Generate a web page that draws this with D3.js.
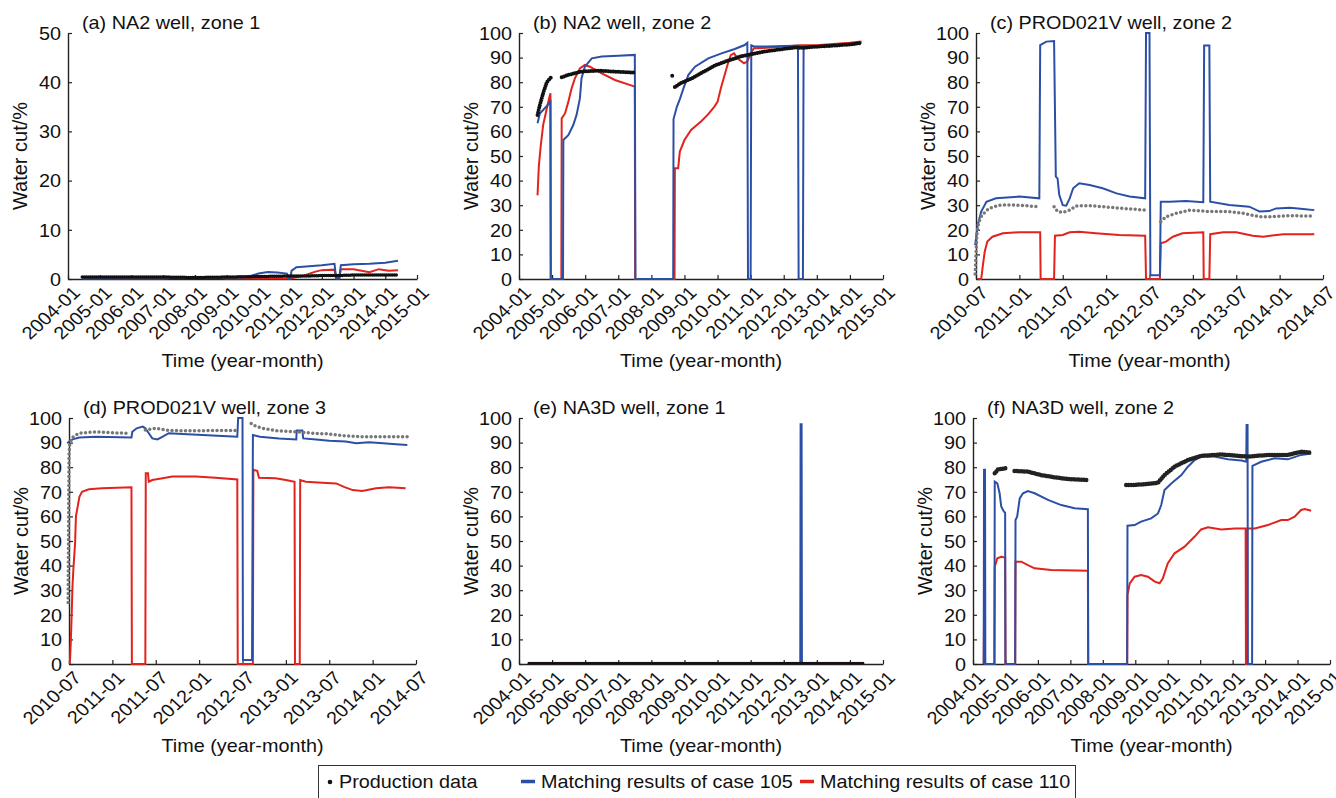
<!DOCTYPE html>
<html>
<head>
<meta charset="utf-8">
<script src="https://cdn.jsdelivr.net/npm/d3@7"></script>
<style>
    body { margin: 0; background: #fff; }
    text { font-family: "Liberation Sans", Arial, sans-serif; fill: #111; }
</style>
</head>
<body>
<svg id="chart" width="1336" height="798"></svg>
<script>
// tick labels
const yearTicks = ["2004-01", "2005-01", "2006-01", "2007-01", "2008-01", "2009-01",
    "2010-01", "2011-01", "2012-01", "2013-01", "2014-01", "2015-01"];
const halfYearTicks = ["2010-07", "2011-01", "2011-07", "2012-01", "2012-07",
    "2013-01", "2013-07", "2014-01", "2014-07"];

const legendLabels = ["Production data", "Matching results of case 105", "Matching results of case 110"];

// series: [decimal year, water cut %], null breaks the line
// (a) NA2 well, zone 1
const aProd = [[2004.45, 0.4], [2005, 0.4], [2006, 0.4], [2007, 0.4], [2008, 0.3], [2009, 0.4], [2010, 0.5],
    [2010.95, 0.6], [2011.5, 0.6], [2012, 0.7], [2012.5, 0.7], [2013, 0.8], [2014, 0.8], [2014.4, 0.8]];
const aCase105 = [[2004.45, 0.2], [2009.5, 0.3], [2009.8, 0.7], [2010.0, 1.1], [2010.3, 1.4], [2010.6, 1.3],
    [2010.9, 1.1], [2010.95, 0.1], [2011.0, 0.1], [2011.05, 1.7], [2011.2, 2.4], [2011.6, 2.6], [2012.0, 2.8],
    [2012.4, 3.1], [2012.45, 0.2], [2012.55, 0.2], [2012.6, 2.8], [2013.0, 3.0], [2013.5, 3.1], [2014.0, 3.3],
    [2014.4, 3.7]];
const aCase110 = [[2004.45, 0.1], [2007.0, 0.1], [2007.5, 0.3], [2008.7, 0.3], [2009.0, 0.1], [2011.0, 0.1],
    [2011.4, 0.6], [2011.8, 1.5], [2012.0, 1.8], [2012.4, 1.9], [2012.45, 0.1], [2012.55, 0.1], [2012.6, 2.0],
    [2013.0, 2.0], [2013.5, 1.4], [2013.8, 2.0], [2014.1, 1.7], [2014.4, 1.8]];

// (b) NA2 well, zone 2
const bProd = [[2004.56, 66.7], [2004.63, 70.7], [2004.74, 76], [2004.84, 80], [2004.97, 82], null,
    [2005.29, 82], [2005.49, 83], [2005.89, 84.3], [2006.4, 84.7], [2006.9, 84.3], [2007.5, 83.9], null,
    [2008.63, 82.6], [2008.66, 82], null,
    [2008.71, 78], [2008.91, 79.8], [2009.22, 81.5], [2009.52, 83.8], [2009.92, 86.8], [2010.32, 88.8],
    [2010.73, 90.6], [2011.13, 91.7], [2011.53, 92.7], [2011.94, 93.4], [2012.34, 94.1], [2012.64, 94],
    [2012.94, 94.4], [2013.45, 94.8], [2013.95, 95.3], [2014.35, 95.9]];
const bCase105 = [[2004.56, 63.3], [2004.63, 67.3], [2004.75, 69], [2004.85, 70.5], [2004.95, 72],
    [2004.96, 0], [2005.33, 0], [2005.34, 56.5], [2005.49, 58.5], [2005.64, 62.6], [2005.74, 66.7],
    [2005.84, 73.4], [2005.89, 81.6], [2005.99, 86.3], [2006.2, 89.7], [2006.5, 90.4], [2007.0, 90.8],
    [2007.5, 91.1], [2007.52, 0], [2008.66, 0], [2008.67, 65], [2008.77, 70], [2008.87, 73.4],
    [2008.97, 77.5], [2009.12, 83], [2009.32, 86.3], [2009.72, 89.7], [2010.12, 91.7], [2010.52, 93.5],
    [2010.82, 95.1], [2010.9, 96], [2010.92, 0], [2011.0, 0], [2011.02, 95], [2011.1, 94.5], [2011.5, 94.5],
    [2012.0, 94.7], [2012.43, 94.8], [2012.45, 0], [2012.58, 0], [2012.6, 94], [2013.0, 94.5], [2013.5, 95],
    [2014.0, 95.5], [2014.35, 96]];
const bCase110 = [[2004.56, 34], [2004.6, 46], [2004.66, 54.5], [2004.73, 62.6], [2004.83, 68.7],
    [2004.92, 74], [2004.95, 75.5], [2004.96, 0], [2005.28, 0], [2005.29, 65.3], [2005.39, 67.3],
    [2005.49, 72], [2005.59, 77.5], [2005.69, 81.6], [2005.84, 85.6], [2005.99, 87], [2006.14, 86.3],
    [2006.5, 83.6], [2006.9, 80.9], [2007.5, 78.2], [2007.51, 0], [2008.7, 0], [2008.71, 45], [2008.81, 45],
    [2008.86, 51.8], [2009.0, 56.5], [2009.2, 60.6], [2009.5, 64], [2009.7, 66.7], [2009.9, 70], [2010.0, 72],
    [2010.1, 77.5], [2010.3, 87], [2010.4, 91], [2010.5, 91.7], [2010.6, 89.7], [2010.8, 87.7], [2010.9, 88.4],
    [2011.0, 91.7], [2011.1, 93.8], [2011.5, 94], [2012.0, 94.5], [2012.5, 95], [2013.0, 95], [2013.5, 95.5],
    [2014.0, 96], [2014.35, 96.5]];

// (c) PROD021V well, zone 2
const cProd = [[2010.49, 2], [2010.5, 10], [2010.51, 18], [2010.53, 23], [2010.57, 26], [2010.65, 28.7],
    [2010.77, 30], [2010.88, 30.1], [2011.0, 30], [2011.2, 29.4], null,
    [2011.4, 29.4], [2011.44, 27.4], [2011.5, 27.1], [2011.58, 28], [2011.65, 29.7], [2011.81, 29.8],
    [2011.96, 29.4], [2012.19, 28.7], [2012.45, 28], null,
    [2012.63, 23.3], [2012.69, 25.3], [2012.81, 26.7], [2012.96, 28], [2013.19, 27.4], [2013.42, 27.4],
    [2013.58, 26.7], [2013.77, 25.3], [2013.88, 25.3], [2014.08, 25.7], [2014.4, 25.6]];
const cCase105 = [[2010.49, 13.8], [2010.52, 22], [2010.56, 27.4], [2010.62, 31.4], [2010.73, 32.8],
    [2011.0, 33.5], [2011.23, 32.8], [2011.24, 95.1], [2011.31, 96.5], [2011.4, 96.7], [2011.42, 41.6],
    [2011.44, 40.9], [2011.46, 34.1], [2011.5, 30], [2011.54, 29.8], [2011.58, 32.8], [2011.62, 36.9],
    [2011.69, 38.9], [2011.81, 38.2], [2011.96, 36.9], [2012.12, 34.8], [2012.27, 33.5], [2012.45, 32.8],
    [2012.46, 100], [2012.5, 100], [2012.51, 1.5], [2012.62, 1.5], [2012.63, 31.4], [2012.73, 31.4],
    [2012.92, 31.7], [2013.12, 31.2], [2013.13, 94.9], [2013.19, 94.9], [2013.2, 31.4], [2013.42, 30.1],
    [2013.65, 29.4], [2013.77, 27.4], [2013.88, 27.6], [2013.96, 28.7], [2014.12, 29], [2014.27, 28.5],
    [2014.4, 28]];
const cCase110 = [[2010.52, 0], [2010.56, 0], [2010.58, 5.7], [2010.6, 11], [2010.63, 15.2], [2010.69, 17.2],
    [2010.81, 18.6], [2011.0, 19], [2011.24, 19], [2011.245, 0], [2011.4, 0], [2011.41, 17.6], [2011.5, 17.9],
    [2011.58, 19], [2011.69, 19.2], [2011.88, 18.6], [2012.15, 17.9], [2012.45, 17.6], [2012.46, 0],
    [2012.62, 0], [2012.63, 14.5], [2012.69, 15.2], [2012.77, 17.2], [2012.88, 18.6], [2013.12, 19],
    [2013.125, 0], [2013.19, 0], [2013.2, 18.2], [2013.35, 19], [2013.5, 19], [2013.69, 17.6], [2013.81, 17.2],
    [2014.04, 18.2], [2014.4, 18.2]];

// (d) PROD021V well, zone 3
const dProd = [[2010.49, 25], [2010.5, 85], [2010.51, 90], [2010.55, 92.5], [2010.62, 93.8], [2010.81, 94.4],
    [2011.0, 94], [2011.2, 93.8], null,
    [2011.38, 95.1], [2011.5, 95.8], [2011.65, 94.9], [2011.96, 94.8], [2012.15, 94.9], [2012.44, 94.9], null,
    [2012.6, 97.8], [2012.65, 96.7], [2012.73, 95.8], [2012.88, 94.9], [2013.12, 94.4], [2013.31, 93.8],
    [2013.5, 93.5], [2013.69, 92.7], [2013.88, 92.4], [2014.4, 92.4]];
const dCase105 = [[2010.48, 89.7], [2010.5, 90.4], [2010.54, 91.3], [2010.62, 92.1], [2010.81, 92.4],
    [2011.22, 92.1], [2011.23, 94.4], [2011.28, 95.8], [2011.35, 96.5], [2011.38, 95.8], [2011.42, 93.8],
    [2011.46, 91.7], [2011.52, 91.3], [2011.58, 92.4], [2011.65, 93.8], [2011.81, 93.5], [2012.04, 93.1],
    [2012.27, 92.7], [2012.44, 92.4], [2012.45, 100], [2012.5, 100], [2012.505, 1.6], [2012.61, 1.6],
    [2012.62, 93.1], [2012.7, 92.4], [2012.92, 91.7], [2013.12, 91.3], [2013.125, 94.9], [2013.19, 94.9],
    [2013.2, 91.7], [2013.35, 91.3], [2013.5, 90.8], [2013.69, 90.4], [2013.81, 89.7], [2013.96, 90.1],
    [2014.12, 89.7], [2014.27, 89.3], [2014.4, 89]];
const dCase110 = [[2010.51, 0], [2010.52, 8.4], [2010.53, 19], [2010.54, 31.4], [2010.55, 38.2],
    [2010.57, 49], [2010.58, 60], [2010.6, 64], [2010.62, 68], [2010.65, 70], [2010.73, 71], [2010.88, 71.4],
    [2011.22, 71.8], [2011.225, 0], [2011.38, 0], [2011.385, 77.5], [2011.41, 77.5], [2011.42, 74.1],
    [2011.46, 74.8], [2011.58, 75.5], [2011.69, 76.2], [2011.96, 76.2], [2012.19, 75.7], [2012.44, 75],
    [2012.445, 0], [2012.62, 0], [2012.625, 78.9], [2012.67, 78.5], [2012.69, 75.7], [2012.88, 75.5],
    [2013.0, 74.8], [2013.1, 74.1], [2013.105, 0], [2013.16, 0], [2013.165, 74.8], [2013.23, 74.1],
    [2013.42, 73.7], [2013.58, 73.4], [2013.67, 72], [2013.77, 70.7], [2013.88, 70.3], [2014.04, 71.4],
    [2014.19, 71.8], [2014.38, 71.4]];

// (e) NA3D well, zone 1
const eProd = [[2004.3, 0.3], [2005, 0.3], [2007, 0.3], [2009, 0.3], [2011, 0.3], [2013, 0.3], [2014.4, 0.3]];
const eCase105 = [[2004.3, 0.2], [2012.5, 0.2], [2012.51, 97.5], [2012.54, 97.5], [2012.55, 0.2], [2014.4, 0.2]];
const eCase110 = [[2004.3, 0.1], [2007.5, 0.2], [2008.7, 0.2], [2014.4, 0.1]];

// (f) NA3D well, zone 2
const fProd = [[2004.67, 77.5], [2004.77, 79.1], [2004.97, 79.5], [2005.0, 79.6], null,
    [2005.28, 78.5], [2005.69, 78.2], [2006.1, 76.8], [2006.51, 75.9], [2006.93, 75.2], [2007.54, 74.8], null,
    [2008.72, 72.8], [2008.98, 72.8], [2009.39, 73.2], [2009.7, 73.7], [2009.9, 76.8], [2010.21, 80.2],
    [2010.62, 82.9], [2011.03, 84.6], [2011.65, 85.2], [2012.47, 84.3], [2013.09, 85], [2013.7, 85],
    [2014.11, 86.3], [2014.42, 85.9]];
const fCase105 = [[2004.33, 0], [2004.34, 79], [2004.37, 79], [2004.38, 0], [2004.66, 0], [2004.67, 74.1],
    [2004.75, 73.4], [2004.82, 69.4], [2004.87, 64], [2004.95, 62], [2004.99, 61.5], [2005.0, 0], [2005.3, 0],
    [2005.31, 58.5], [2005.36, 59.9], [2005.44, 67.3], [2005.54, 69.4], [2005.69, 70.3], [2005.9, 69.4],
    [2006.31, 66.7], [2006.72, 64.6], [2007.13, 63.3], [2007.54, 62.9], [2007.55, 0], [2008.75, 0],
    [2008.76, 56.2], [2008.98, 56.5], [2009.18, 57.9], [2009.49, 59.2], [2009.7, 61.2], [2009.8, 64.6],
    [2009.9, 70.7], [2010.11, 73.4], [2010.42, 76.8], [2010.62, 80.2], [2010.83, 82.9], [2011.03, 84.3],
    [2011.44, 84.3], [2011.85, 83.2], [2012.27, 82.7], [2012.42, 82.2], [2012.43, 97.2], [2012.46, 97.2],
    [2012.47, 0], [2012.6, 0], [2012.61, 80.5], [2012.88, 82.2], [2013.29, 83.6], [2013.7, 83.2],
    [2014.11, 85], [2014.42, 85.6]];
const fCase110 = [[2004.33, 0], [2004.35, 37], [2004.36, 0], [2004.66, 0], [2004.67, 39.6], [2004.75, 43],
    [2004.87, 43.6], [2004.99, 43.3], [2005.0, 0], [2005.3, 0], [2005.31, 41.6], [2005.49, 41.6],
    [2005.69, 40.2], [2005.9, 38.9], [2006.41, 38.2], [2007.54, 37.9], [2007.55, 0], [2008.75, 0],
    [2008.76, 28], [2008.83, 32.8], [2008.98, 35.5], [2009.18, 36.2], [2009.39, 35.5], [2009.6, 33.5],
    [2009.75, 32.8], [2009.85, 34.8], [2010.0, 40.9], [2010.21, 45], [2010.52, 47.7], [2010.83, 51.8],
    [2011.03, 54.7], [2011.24, 55.6], [2011.65, 54.7], [2012.06, 55.1], [2012.4, 55.1], [2012.41, 0],
    [2012.44, 0], [2012.45, 55.1], [2012.68, 55.1], [2013.09, 56.5], [2013.5, 58.5], [2013.7, 58.5],
    [2013.91, 59.9], [2014.11, 62.6], [2014.22, 63], [2014.42, 62.3]];

const BLUE = "#2c4fa6", RED = "#e2231d";
const FONT = 18;
const STRETCH = "scale(1.1,1)";

const panels = [
    { title: "(a) NA2 well, zone 1", ticks: yearTicks, yMax: 50, prod: aProd, c105: aCase105, c110: aCase110,
      left: 68, right: 417, top: 33, bottom: 279, prodColor: "#111", prodWidth: 3.5, prodGap: 2 },
    { title: "(b) NA2 well, zone 2", ticks: yearTicks, yMax: 100, prod: bProd, c105: bCase105, c110: bCase110,
      left: 519, right: 883, top: 33, bottom: 279, prodColor: "#111", prodWidth: 4, prodGap: 2.5 },
    { title: "(c) PROD021V well, zone 2", ticks: halfYearTicks, yMax: 100, prod: cProd, c105: cCase105, c110: cCase110,
      left: 976, right: 1323, top: 33, bottom: 279, prodColor: "#777", prodWidth: 3.5, prodGap: 4.5 },
    { title: "(d) PROD021V well, zone 3", ticks: halfYearTicks, yMax: 100, prod: dProd, c105: dCase105, c110: dCase110,
      left: 69, right: 416, top: 418, bottom: 664, prodColor: "#777", prodWidth: 3.5, prodGap: 4.5 },
    { title: "(e) NA3D well, zone 1", ticks: yearTicks, yMax: 100, prod: eProd, c105: eCase105, c110: eCase110,
      left: 519, right: 883, top: 418, bottom: 664, prodColor: "#111", prodWidth: 3, prodGap: 2 },
    { title: "(f) NA3D well, zone 2", ticks: yearTicks, yMax: 100, prod: fProd, c105: fCase105, c110: fCase110,
      left: 973, right: 1330, top: 418, bottom: 664, prodColor: "#222", prodWidth: 4.5, prodGap: 2.5 }
];

const toYear = s => +s.slice(0, 4) + (+s.slice(5, 7) - 1) / 12;

const svg = d3.select("#chart");
svg.append("rect").attr("width", 1336).attr("height", 798).attr("fill", "#fff");

panels.forEach(p => {
    const g = svg.append("g");
    const tickYears = p.ticks.map(toYear);
    const x = d3.scaleLinear().domain([tickYears[0], tickYears[tickYears.length - 1]]).range([p.left, p.right]);
    const y = d3.scaleLinear().domain([0, p.yMax]).range([p.bottom, p.top]);

    const line = d3.line()
        .defined(d => d !== null)
        .x(d => x(d[0]))
        .y(d => y(d[1]));

    // axes
    const xAxis = g.append("g")
        .attr("transform", `translate(0,${p.bottom})`)
        .call(d3.axisBottom(x).tickValues(tickYears).tickFormat((d, i) => p.ticks[i])
            .tickSize(-4).tickSizeOuter(0));
    xAxis.selectAll("text")
        .attr("x", 0).attr("y", 0).attr("dy", "0.7em")
        .attr("text-anchor", "end")
        .attr("transform", `translate(3,6) ${STRETCH} rotate(-45)`);

    const yAxis = g.append("g")
        .attr("transform", `translate(${p.left},0)`)
        .call(d3.axisLeft(y).tickValues(d3.range(0, p.yMax + 1, 10)).tickSize(-4).tickSizeOuter(0));
    yAxis.selectAll("text")
        .attr("x", 0).attr("dy", "0.35em")
        .attr("transform", `translate(-7,0) ${STRETCH}`);

    [xAxis, yAxis].forEach(a => {
        a.attr("font-size", FONT).attr("font-family", null);
        a.select(".domain").attr("stroke", "#222").attr("stroke-width", 1.4);
        a.selectAll(".tick line").attr("stroke", "#222").attr("stroke-width", 1.2);
    });

    // series
    g.append("path").datum(p.c110).attr("d", line)
        .attr("fill", "none").attr("stroke", RED).attr("stroke-width", 2);
    g.append("path").datum(p.c105).attr("d", line)
        .attr("fill", "none").attr("stroke", BLUE).attr("stroke-width", 2);
    g.append("path").datum(p.prod).attr("d", line)
        .attr("fill", "none").attr("stroke", p.prodColor).attr("stroke-width", p.prodWidth)
        .attr("stroke-linecap", "round").attr("stroke-dasharray", `0,${p.prodGap}`);

    // labels
    g.append("text")
        .attr("transform", `translate(${p.left + 14},${p.top - 4}) ${STRETCH}`)
        .attr("font-size", FONT)
        .text(p.title);

    g.append("text")
        .attr("transform", `translate(${(p.left + p.right) / 2},${p.bottom + 88}) ${STRETCH}`)
        .attr("text-anchor", "middle")
        .attr("font-size", FONT)
        .text("Time (year-month)");

    g.append("text")
        .attr("transform", `translate(${p.left - 41},${(p.top + p.bottom) / 2}) rotate(-90)`)
        .attr("text-anchor", "middle")
        .attr("font-size", 20)
        .text("Water cut/%");
});

// legend
const legend = svg.append("g");
legend.append("rect")
    .attr("x", 318.5).attr("y", 765.5).attr("width", 757).attr("height", 40)
    .attr("fill", "#fff").attr("stroke", "#333").attr("stroke-width", 1);

const legendItems = [
    { x: 329, color: "#111", dot: true },
    { x: 521, color: BLUE, dot: false },
    { x: 800, color: RED, dot: false }
];
legendItems.forEach((item, i) => {
    if (item.dot) {
        legend.append("circle").attr("cx", item.x + 1).attr("cy", 782).attr("r", 2.3).attr("fill", item.color);
    } else {
        legend.append("line")
            .attr("x1", item.x).attr("x2", item.x + 14).attr("y1", 781.5).attr("y2", 781.5)
            .attr("stroke", item.color).attr("stroke-width", 3.5);
    }
    legend.append("text")
        .attr("transform", `translate(${item.x + (item.dot ? 10 : 20)},788) ${STRETCH}`)
        .attr("font-size", FONT)
        .text(legendLabels[i]);
});
</script>
</body>
</html>
